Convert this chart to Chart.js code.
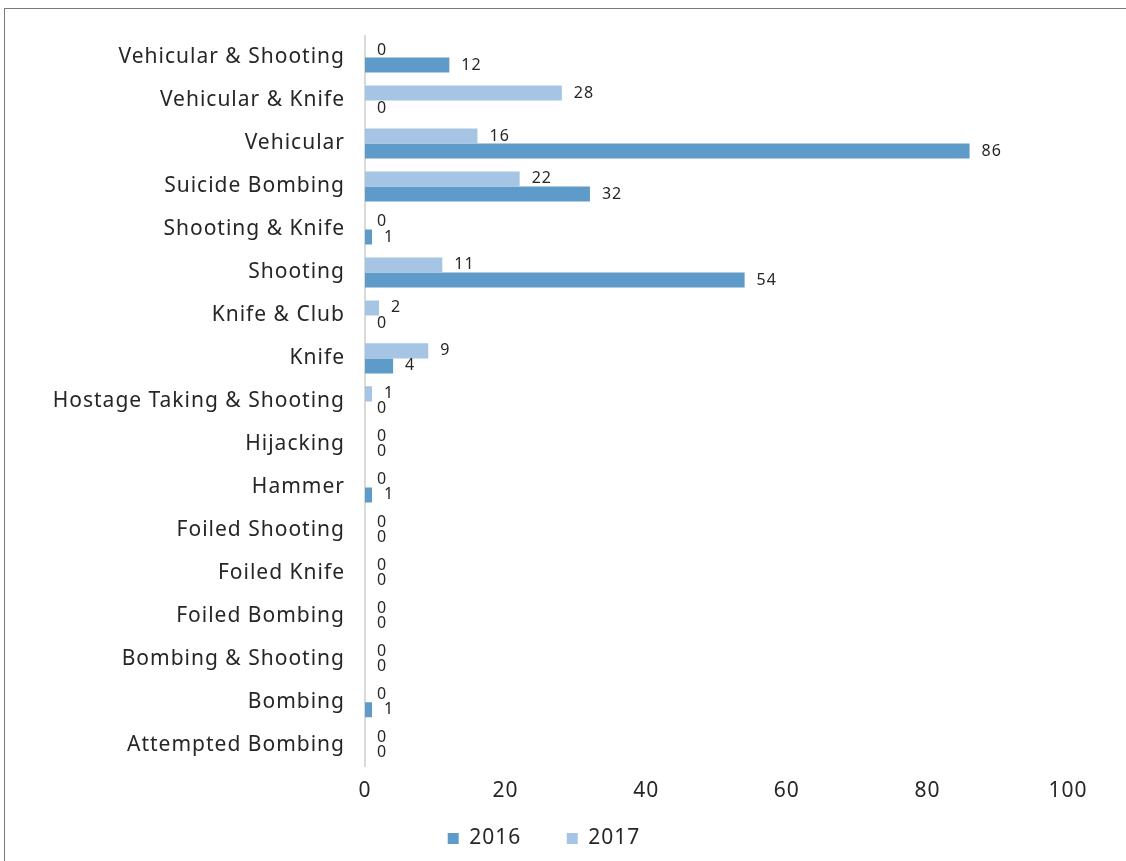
<!DOCTYPE html>
<html lang="en">
<head>
  <meta charset="UTF-8">
  <title>Attack Types 2016 vs 2017</title>
  <script src="https://cdn.jsdelivr.net/npm/chart.js"></script>
  <style>
    body {
      margin: 0;
      background: #fff;
      overflow: hidden;
    }
    .frame {
      position: absolute;
      left: 4px;
      top: 8px;
      width: 2000px;
      height: 2000px;
      border-left: 1px solid #7a7a7a;
      border-top: 1px solid #7a7a7a;
    }
    .wrap {
      position: absolute;
      left: 0;
      top: 0;
      width: 1126px;
      height: 861px;
    }
  </style>
</head>
<body>
  <div class="frame"></div>
  <div class="wrap"><canvas id="barChart"></canvas></div>

  <script>
    // categories, top to bottom
    const categories = [
      'Vehicular & Shooting', 'Vehicular & Knife', 'Vehicular', 'Suicide Bombing',
      'Shooting & Knife', 'Shooting', 'Knife & Club', 'Knife',
      'Hostage Taking & Shooting', 'Hijacking', 'Hammer', 'Foiled Shooting',
      'Foiled Knife', 'Foiled Bombing', 'Bombing & Shooting', 'Bombing', 'Attempted Bombing'
    ];
    const values2016 = [12, 0, 86, 32, 1, 54, 0, 4, 0, 0, 1, 0, 0, 0, 0, 1, 0];
    const values2017 = [0, 28, 16, 22, 0, 11, 2, 9, 1, 0, 0, 0, 0, 0, 0, 0, 0];
    const xTicks = [0, 20, 40, 60, 80, 100];

    const fontFamily = "'Noto Sans', sans-serif";
    const textColor = '#262626';

    // wider letter spacing to get closer to the original typeface
    const spacing = {
      id: 'spacing',
      beforeUpdate(chart) { chart.ctx.letterSpacing = '1px'; },
      beforeLayout(chart) { chart.ctx.letterSpacing = '1px'; },
      beforeDraw(chart) { chart.ctx.letterSpacing = '1px'; }
    };

    // value labels at the end of each bar
    const valueLabels = {
      id: 'valueLabels',
      afterDatasetsDraw(chart) {
        const ctx = chart.ctx;
        ctx.save();
        ctx.font = '16px ' + fontFamily;
        ctx.fillStyle = textColor;
        ctx.textAlign = 'left';
        ctx.textBaseline = 'middle';
        chart.data.datasets.forEach((ds, i) => {
          const meta = chart.getDatasetMeta(i);
          meta.data.forEach((bar, j) => {
            ctx.fillText(String(ds.data[j]), bar.x + 12, bar.y);
          });
        });
        ctx.restore();
      }
    };

    const ctx = document.getElementById('barChart').getContext('2d');
    new Chart(ctx, {
      type: 'bar',
      data: {
        labels: categories,
        datasets: [
          {
            label: '2017',
            data: values2017,
            backgroundColor: '#a6c5e4',
            categoryPercentage: 0.7,
            barPercentage: 1.0
          },
          {
            label: '2016',
            data: values2016,
            backgroundColor: '#5f9bc8',
            categoryPercentage: 0.7,
            barPercentage: 1.0
          }
        ]
      },
      options: {
        indexAxis: 'y',
        responsive: true,
        maintainAspectRatio: false,
        animation: false,
        layout: {
          padding: { left: 20, right: 58, top: 36, bottom: 2 }
        },
        plugins: {
          legend: {
            position: 'bottom',
            labels: {
              boxWidth: 11,
              boxHeight: 11,
              padding: 12,
              color: textColor,
              font: { family: fontFamily, size: 21 },
              sort: (a, b) => b.datasetIndex - a.datasetIndex,
              // extra room after the first entry
              generateLabels: (chart) => {
                const items = Chart.defaults.plugins.legend.labels.generateLabels(chart);
                items.forEach(it => { if (it.text === '2016') it.text += '\u2002\u2003'; });
                return items;
              }
            }
          },
          tooltip: { enabled: false }
        },
        scales: {
          x: {
            min: 0,
            max: 100,
            afterBuildTicks: (scale) => {
              scale.ticks = xTicks.map(v => ({ value: v }));
            },
            grid: { display: false, drawTicks: false },
            border: { display: false },
            ticks: {
              padding: 12,
              color: textColor,
              font: { family: fontFamily, size: 21 }
            }
          },
          y: {
            afterFit: (scale) => { scale.width = 345; },
            grid: { display: false, drawTicks: false },
            border: { display: true, color: '#d9d9d9', width: 2 },
            ticks: {
              padding: 20,
              color: textColor,
              font: { family: fontFamily, size: 21 }
            }
          }
        }
      },
      plugins: [spacing, valueLabels]
    });
  </script>
</body>
</html>
